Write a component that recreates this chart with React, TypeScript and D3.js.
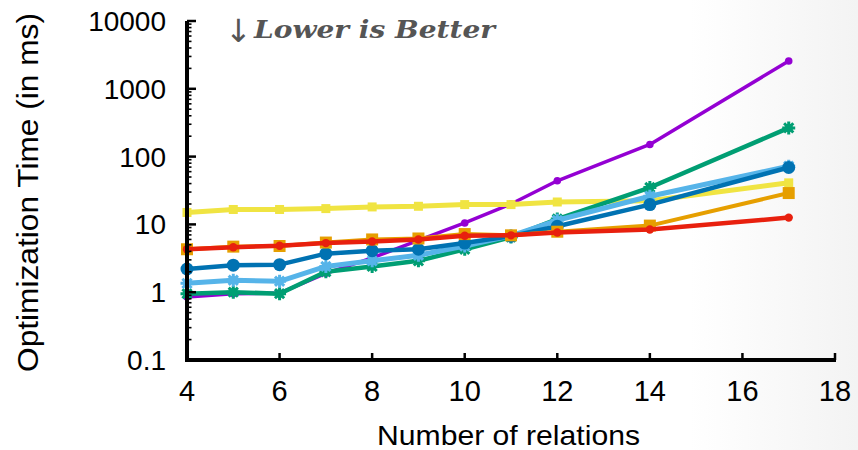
import React from "react";
import * as d3 from "d3";

const WIDTH = 858;
const HEIGHT = 450;

// number of relations
const relations = [4, 5, 6, 7, 8, 9, 10, 11, 12, 14, 17];

// optimization time (ms), one array per method
const purpleTimes = [0.85, 0.95, 0.97, 1.9, 3.2, 5.8, 10.5, 20, 44, 151, 2570];
const yellowTimes = [15, 16.6, 16.6, 17.1, 18.1, 18.5, 19.6, 19.6, 21.4, 22.3, 41];
const greenTimes = [0.95, 1.0, 0.95, 2.0, 2.4, 2.9, 4.3, 6.5, 12, 35, 265];
const lightBlueTimes = [1.35, 1.5, 1.45, 2.4, 2.9, 3.5, 4.8, 6.8, 11.5, 26, 72];
const darkBlueTimes = [2.2, 2.5, 2.55, 3.7, 4.1, 4.3, 5.3, 6.7, 9.4, 19.6, 69];
const orangeTimes = [4.3, 4.7, 4.8, 5.4, 6.0, 6.2, 7.2, 6.9, 7.8, 9.6, 29];
const redTimes = [4.3, 4.6, 4.85, 5.3, 5.6, 6.0, 6.8, 6.9, 7.6, 8.4, 12.6];

const xTicks = [4, 6, 8, 10, 12, 14, 16, 18];
const yTicks = [0.1, 1, 10, 100, 1000, 10000];
const yTickLabels = ["0.1", "1", "10", "100", "1000", "10000"];

type Marker = "circle" | "square" | "asterisk";

const SERIES: {
  key: string;
  values: number[];
  color: string;
  width: number;
  marker: Marker;
  size: number;
}[] = [
  { key: "purple", values: purpleTimes, color: "#9400d3", width: 3.5, marker: "circle", size: 3.8 },
  { key: "yellow", values: yellowTimes, color: "#f0e442", width: 5, marker: "square", size: 9 },
  { key: "green", values: greenTimes, color: "#009e73", width: 4.5, marker: "asterisk", size: 6.5 },
  { key: "lightblue", values: lightBlueTimes, color: "#56b4e9", width: 5, marker: "asterisk", size: 6.5 },
  { key: "darkblue", values: darkBlueTimes, color: "#0072b2", width: 4.5, marker: "circle", size: 6.5 },
  { key: "orange", values: orangeTimes, color: "#e69f00", width: 4, marker: "square", size: 12 },
  { key: "red", values: redTimes, color: "#e8200e", width: 4.5, marker: "circle", size: 4.2 },
];

const FONT = "'Liberation Sans', Arial, Helvetica, sans-serif";

export default function App() {
  const x = d3.scaleLinear().domain([4, 18]).range([187, 835]);
  const y = d3.scaleLog().domain([0.1, 10000]).range([360, 21]);

  const line = d3
    .line<number>()
    .x((_, i) => x(relations[i]))
    .y((d) => y(d));

  // minor log ticks 2..9 in every decade
  const minorTicks: number[] = [];
  yTicks.slice(0, -1).forEach((t) => {
    for (let k = 2; k <= 9; k++) minorTicks.push(t * k);
  });

  const asterisk = (cx: number, cy: number, r: number) => {
    const parts: string[] = [];
    for (let a = 0; a < 4; a++) {
      const ang = (a * Math.PI) / 4;
      const dx = Math.cos(ang) * r;
      const dy = Math.sin(ang) * r;
      parts.push(`M${cx - dx},${cy - dy}L${cx + dx},${cy + dy}`);
    }
    return parts.join("");
  };

  return (
    <svg
      width={WIDTH}
      height={HEIGHT}
      style={{ position: "absolute", left: 0, top: 0, background: "#fff" }}
    >
      <defs>
        <linearGradient id="bgfade" x1="0" x2="1" y1="0" y2="0">
          <stop offset="0" stopColor="#ffffff" />
          <stop offset="1" stopColor="#f3f3f3" />
        </linearGradient>
      </defs>
      <rect x={690} y={0} width={WIDTH - 690} height={HEIGHT} fill="url(#bgfade)" />

      {/* series */}
      {SERIES.map((s) => (
        <g key={s.key}>
          <path
            d={line(s.values) ?? ""}
            fill="none"
            stroke={s.color}
            strokeWidth={s.width}
            strokeLinejoin="round"
          />
          {s.values.map((v, i) => {
            const cx = x(relations[i]);
            const cy = y(v);
            if (s.marker === "circle")
              return <circle key={i} cx={cx} cy={cy} r={s.size} fill={s.color} />;
            if (s.marker === "square")
              return (
                <rect
                  key={i}
                  x={cx - s.size / 2}
                  y={cy - s.size / 2}
                  width={s.size}
                  height={s.size}
                  fill={s.color}
                />
              );
            return (
              <g key={i}>
                <circle cx={cx} cy={cy} r={s.size * 0.65} fill={s.color} />
                <path d={asterisk(cx, cy, s.size)} stroke={s.color} strokeWidth={3} />
              </g>
            );
          })}
        </g>
      ))}

      {/* y axis */}
      <line x1={187} x2={187} y1={y(10000)} y2={y(0.1)} stroke="#000" strokeWidth={4} />
      {minorTicks.map((t) => (
        <line key={t} x1={187} x2={191.5} y1={y(t)} y2={y(t)} stroke="#000" strokeWidth={1.6} />
      ))}
      {yTicks.map((t, i) => (
        <g key={t}>
          <line x1={187} x2={196} y1={y(t)} y2={y(t)} stroke="#000" strokeWidth={2.5} />
          <text
            x={166}
            y={y(t)}
            dy="0.36em"
            textAnchor="end"
            fontFamily={FONT}
            fontSize={28}
            fill="#000"
          >
            {yTickLabels[i]}
          </text>
        </g>
      ))}

      {/* x axis */}
      <line x1={185} x2={836} y1={360} y2={360} stroke="#000" strokeWidth={4} />
      {xTicks.map((t) => (
        <g key={t}>
          <line x1={x(t)} x2={x(t)} y1={360} y2={353} stroke="#000" strokeWidth={2.5} />
          <text
            x={x(t)}
            y={401}
            textAnchor="middle"
            fontFamily={FONT}
            fontSize={29}
            fill="#000"
          >
            {t}
          </text>
        </g>
      ))}

      {/* axis titles */}
      <text
        x={377}
        y={445}
        fontFamily={FONT}
        fontSize={28}
        fill="#000"
        textLength={263}
        lengthAdjust="spacingAndGlyphs"
      >
        Number of relations
      </text>
      <text
        transform="translate(38,372) rotate(-90)"
        fontFamily={FONT}
        fontSize={30}
        fill="#000"
        textLength={359}
        lengthAdjust="spacingAndGlyphs"
      >
        Optimization Time (in ms)
      </text>

      {/* annotation */}
      <text x={225} y={42} fontFamily="'DejaVu Sans', sans-serif" fontSize={32} fill="#555">
        ↓
      </text>
      <text
        x={254}
        y={38}
        fontFamily="'DejaVu Serif', 'Liberation Serif', serif"
        fontStyle="italic"
        fontWeight="bold"
        fontSize={25}
        fill="#555"
        textLength={241}
        lengthAdjust="spacingAndGlyphs"
      >
        Lower is Better
      </text>
    </svg>
  );
}
